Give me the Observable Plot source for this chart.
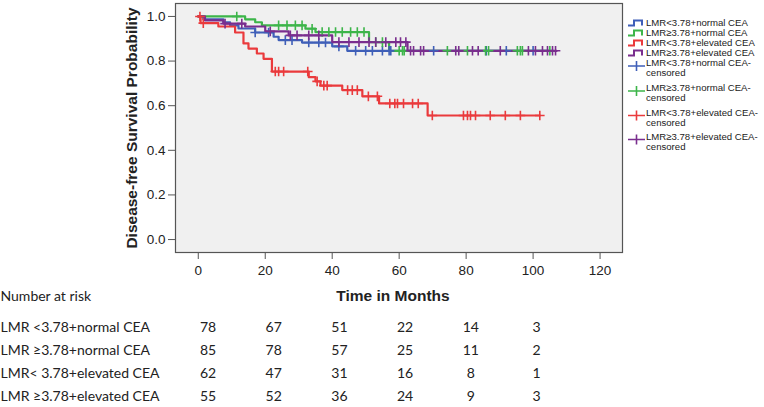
<!DOCTYPE html>
<html><head><meta charset="utf-8">
<script src="https://cdn.jsdelivr.net/npm/d3@7"></script>
<script src="https://cdn.jsdelivr.net/npm/@observablehq/plot@0.6"></script>
<style>
body{margin:0;background:#fff;}
#wrap{position:relative;width:764px;height:407px;overflow:hidden;background:#fff;}
#main,#table,#legend{position:absolute;left:0;}
#main{top:0}
#table{top:280px}
#legend{left:626px;top:0}
</style></head><body>
<div id="wrap"><div id="main"></div><div id="table"></div><div id="legend"></div></div>
<script>
// ---- data ----
const seriesNames = ["LMR<3.78+normal CEA","LMR≥3.78+normal CEA","LMR<3.78+elevated CEA","LMR≥3.78+elevated CEA"];
const seriesColors = ["#3f5fb8","#3db54a","#ea3a3c","#7a2e8e"];

const blueTimes = [0, 1.5, 7.5, 9.5, 12, 17, 22.5, 24, 31, 40, 44.5, 106];
const blueSurv  = [1, 0.987, 0.974, 0.96, 0.946, 0.928, 0.909, 0.894, 0.883, 0.866, 0.846, 0.846];
const blueCensor = [17, 21, 26, 28, 33, 36, 38, 42, 47, 50, 52, 55, 57, 57.5, 70.3, 86, 92, 100];

const greenTimes = [0, 14, 17, 19, 32, 35, 51, 57, 105];
const greenSurv  = [1, 0.987, 0.974, 0.96, 0.945, 0.93, 0.885, 0.846, 0.846];
const greenCensor = [11.5, 24, 26.5, 29, 31, 34, 37, 39, 41, 43, 45.5, 47.5, 49.5, 53, 55, 60, 61, 61.5, 74.4, 80.4, 85.8, 86.7, 95.3, 96.2, 96.8, 105];

const redTimes = [0, 0.7, 6, 11, 13.5, 15, 17.5, 19.5, 22, 33, 35, 36.5, 43, 49, 54, 68.5, 102];
const redSurv  = [1, 0.97, 0.955, 0.928, 0.879, 0.856, 0.834, 0.81, 0.753, 0.728, 0.709, 0.69, 0.67, 0.642, 0.61, 0.556, 0.556];
const redCensor = [0.5, 1.5, 23, 24, 25.5, 32.7, 35.5, 37.5, 38.5, 44.6, 46, 47.5, 50.8, 53.5, 57.2, 58.7, 59.5, 61.3, 64, 65.7, 69.9, 79.2, 80.4, 81.3, 82.8, 87.2, 91.7, 96.2, 102];

const purpleTimes = [0, 2, 7.5, 14, 20, 27, 40, 62.5, 107];
const purpleSurv  = [1, 0.982, 0.968, 0.955, 0.933, 0.915, 0.885, 0.846, 0.846];
const purpleCensor = [8, 13, 21.5, 27.5, 29.5, 33, 36, 42, 45, 48, 51, 53, 56, 59, 60.4, 62, 63.4, 64.3, 66.4, 67.3, 76.9, 77.8, 81.9, 83.6, 90.2, 98.6, 100.7, 102.8, 104.3, 105.8, 106.7];

const xTicks = [0, 20, 40, 60, 80, 100, 120];
const yTicks = [0, 0.2, 0.4, 0.6, 0.8, 1.0];

const riskTimes = [0, 20, 40, 60, 80, 100];
const riskRows = ["LMR <3.78+normal CEA","LMR ≥3.78+normal CEA","LMR< 3.78+elevated CEA","LMR ≥3.78+elevated CEA"];
const riskRow1 = [78, 67, 51, 22, 14, 3];
const riskRow2 = [85, 78, 57, 25, 11, 2];
const riskRow3 = [62, 47, 31, 16, 8, 1];
const riskRow4 = [55, 52, 36, 24, 9, 3];

// ---- build tables ----
const groups = [
  {name: seriesNames[0], color: seriesColors[0], t: blueTimes, s: blueSurv, c: blueCensor},
  {name: seriesNames[1], color: seriesColors[1], t: greenTimes, s: greenSurv, c: greenCensor},
  {name: seriesNames[3], color: seriesColors[3], t: purpleTimes, s: purpleSurv, c: purpleCensor},
  {name: seriesNames[2], color: seriesColors[2], t: redTimes, s: redSurv, c: redCensor}
];
const stepAt = (g, time) => { let v = g.s[0]; for (let i = 0; i < g.t.length; i++) if (g.t[i] <= time) v = g.s[i]; return v; };
const lineData = groups.flatMap(g => g.t.map((t, i) => ({name: g.name, t, s: g.s[i]})));
const censorData = groups.flatMap(g => g.c.map(t => ({name: g.name, t, s: stepAt(g, t)})));

const colorScale = {domain: seriesNames, range: seriesColors};
const AX = "Liberation Sans, Arial, sans-serif";

const main = Plot.plot({
  width: 764, height: 280,
  marginTop: 3, marginBottom: 28, marginLeft: 175, marginRight: 142,
  style: {fontFamily: AX, fontSize: "13px", color: "#222", background: "transparent", overflow: "visible"},
  x: {domain: [-6.8, 126.7]},
  y: {domain: [-0.058, 1.058]},
  color: colorScale,
  marks: [
    Plot.frame({fill: "#f0f0f0", stroke: null}),
    Plot.axisX({ticks: xTicks, tickSize: 7, tickPadding: 6, stroke: "#555", label: null, fontSize: 13.5}),
    Plot.axisY({ticks: yTicks, tickSize: 7, tickPadding: 3, stroke: "#555", tickFormat: d3.format(".1f"), label: null, fontSize: 13.5}),
    Plot.line(lineData, {x: "t", y: "s", z: "name", stroke: "name", curve: "step-after", strokeWidth: 2.2}),
    Plot.dot(censorData, {x: "t", y: "s", stroke: "name", symbol: "plus", r: 3.2, strokeWidth: 1.6}),
    Plot.frame({stroke: "#555", strokeWidth: 1.2}),
    Plot.text(["Disease-free Survival Probability"], {frameAnchor: "left", textAnchor: "middle", lineAnchor: "middle", rotate: -90, dx: -43, fontWeight: "bold", fontSize: 15.5, fill: "#222"})
  ]
});
document.getElementById("main").append(main);

// ---- number at risk table ----
const riskValues = [riskRow1, riskRow2, riskRow3, riskRow4];
const riskData = riskRows.flatMap((r, i) => riskTimes.map((t, j) => ({row: r, t, n: riskValues[i][j]})));
const TF = "Lato, Carlito, 'Noto Sans', sans-serif";
const table = Plot.plot({
  width: 764, height: 127,
  marginLeft: 207.5, marginRight: 228, marginTop: 46.7, marginBottom: 11,
  style: {fontFamily: TF, fontSize: "14px", color: "#222", background: "transparent", overflow: "visible"},
  x: {domain: [0, 100], axis: null},
  y: {type: "point", domain: riskRows, padding: 0, axis: null},
  marks: [
    Plot.text(riskData, {x: "t", y: "row", text: "n", fill: "#222"}),
    Plot.text(riskRows, {y: d => d, text: d => d, frameAnchor: "left", textAnchor: "start", dx: -207.5, fill: "#222"}),
    Plot.text(["Number at risk"], {frameAnchor: "top-left", textAnchor: "start", lineAnchor: "middle", dx: -207.5, dy: -30.7, fill: "#222"}),
    Plot.text(["Time in Months"], {frameAnchor: "top", lineAnchor: "middle", dx: 20.7, dy: -30.7, fontWeight: "bold", fontFamily: AX, fontSize: 15.5, fill: "#222"})
  ]
});
document.getElementById("table").append(table);

// ---- legend ----
const legendItems = [
  {lines: [seriesNames[0]], color: seriesColors[0], kind: "step", y: 23},
  {lines: [seriesNames[1]], color: seriesColors[1], kind: "step", y: 33},
  {lines: [seriesNames[2]], color: seriesColors[2], kind: "step", y: 43},
  {lines: [seriesNames[3]], color: seriesColors[3], kind: "step", y: 53},
  {lines: [seriesNames[0] + "-", "censored"], color: seriesColors[0], kind: "censor", y: 63},
  {lines: [seriesNames[1] + "-", "censored"], color: seriesColors[1], kind: "censor", y: 88},
  {lines: [seriesNames[2] + "-", "censored"], color: seriesColors[2], kind: "censor", y: 112.5},
  {lines: [seriesNames[3] + "-", "censored"], color: seriesColors[3], kind: "censor", y: 136.5}
];
const lsvg = d3.select("#legend").append("svg").attr("width", 138).attr("height", 160)
  .style("font-family", AX).style("font-size", "9.6px");
legendItems.forEach(it => {
  const g = lsvg.append("g");
  if (it.kind === "step") {
    g.append("path").attr("d", `M2,${it.y + 2.5}H8V${it.y - 2.5}H16V${it.y + 2.5}`)
      .attr("fill", "none").attr("stroke", it.color).attr("stroke-width", 2);
  } else {
    const cy = it.y + 3;
    g.append("path").attr("d", `M2,${cy}H19M10.5,${cy - 5}V${cy + 5}`)
      .attr("fill", "none").attr("stroke", it.color).attr("stroke-width", 1.6);
  }
  it.lines.forEach((l, i) => {
    g.append("text").attr("x", 20).attr("y", it.y + i * 9.8).attr("dy", "0.35em").attr("fill", "#222").text(l);
  });
});
</script>
</body></html>
